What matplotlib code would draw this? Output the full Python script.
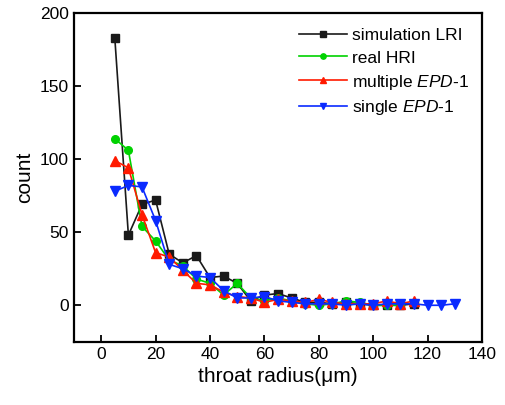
import matplotlib
matplotlib.use("Agg")
import matplotlib.pyplot as plt

plt.rcParams['font.family'] = ['Liberation Sans', 'DejaVu Sans']
plt.rcParams['mathtext.fontset'] = 'custom'
plt.rcParams['mathtext.it'] = 'Liberation Sans:italic'
plt.rcParams['mathtext.rm'] = 'Liberation Sans'

# throat radius (um)
radius = [5, 10, 15, 20, 25, 30, 35, 40, 45, 50, 55, 60, 65, 70, 75, 80, 85, 90, 95, 100, 105, 110, 115, 120, 125, 130]

sim_lri = [183, 48, 69, 72, 35, 29, 34, 19, 20, 15, 3, 7, 8, 5, 2, 2, 1, 2, 1, 0, 0, 0, 1]
real_hri = [114, 106, 54, 44, 31, 27, 18, 15, 7, 15, 5, 3, 5, 3, 1, 0, 1, 3, 2, 0, 0, 0]
multi_epd = [99, 94, 62, 36, 33, 24, 15, 14, 9, 6, 5, 2, 4, 3, 2, 4, 2, 1, 1, 1, 3, 1, 3]
single_epd = [78, 82, 81, 58, 28, 25, 20, 19, 10, 5, 5, 6, 3, 2, 1, 1, 1, 0, 1, 0, 1, 1, 1, 0, 0, 1]

labels = ['simulation LRI', 'real HRI', r'multiple $\it{EPD}$-1', r'single $\it{EPD}$-1']

fig = plt.figure(figsize=(5.05, 4.05), dpi=100)
ax = fig.add_axes([0.1465, 0.156, 0.808, 0.812])

ax.plot(radius[:len(sim_lri)], sim_lri, color='#1a1a1a', marker='s', ms=5.5, lw=1.2, label=labels[0])
ax.plot(radius[:len(real_hri)], real_hri, color='#00d200', marker='o', ms=5.5, lw=1.2, label=labels[1])
ax.plot(radius[:len(multi_epd)], multi_epd, color='#ff1a00', marker='^', ms=6.5, lw=1.2, label=labels[2])
ax.plot(radius[:len(single_epd)], single_epd, color='#0a2aff', marker='v', ms=6.5, lw=1.2, label=labels[3])

ax.set_xlim(-10, 140)
ax.set_ylim(-25, 200)
ax.set_xticks([0, 20, 40, 60, 80, 100, 120, 140])
ax.set_yticks([0, 50, 100, 150, 200])
ax.tick_params(direction='in', length=5, width=1.3, labelsize=12.5, top=False, right=False)
for s in ax.spines.values():
    s.set_linewidth(1.6)

ax.set_xlabel('throat radius(μm)', fontsize=15, labelpad=4)
ax.set_ylabel('count', fontsize=15, labelpad=4)

ax.legend(loc='upper right', bbox_to_anchor=(0.995, 0.985), frameon=False, fontsize=12.5,
          markerscale=0.7, handlelength=2.8, handletextpad=0.3, labelspacing=0.4,
          borderaxespad=0.2)

fig.savefig('out.png', dpi=100)
